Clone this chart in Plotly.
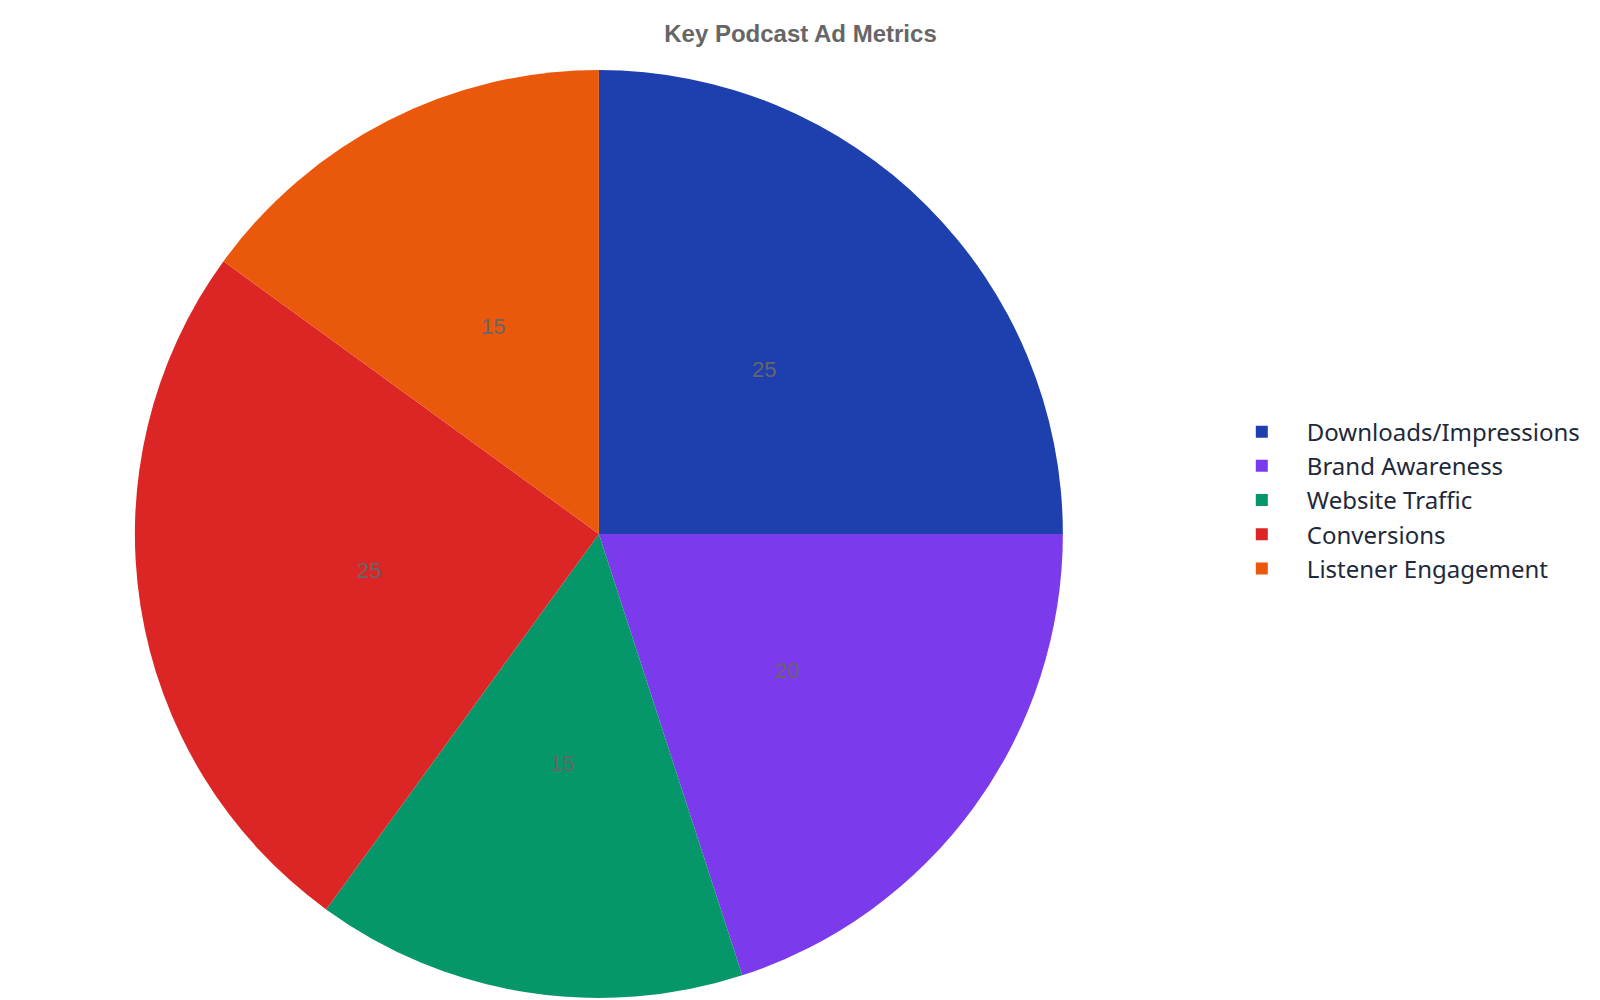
import math
import plotly.graph_objects as go

# Slice data, in drawing order (clockwise from 12 o'clock)
metrics = [
    "Downloads/Impressions",
    "Brand Awareness",
    "Website Traffic",
    "Conversions",
    "Listener Engagement",
]
shares = [25, 20, 15, 25, 15]
slice_colors = ["#1E40AF", "#7C3AED", "#059669", "#DC2626", "#EA580C"]

W, H = 1600, 1000
M_T, M_B = 62, 10
DOM_X = [0.0793, 0.6593]

fig = go.Figure(
    go.Pie(
        labels=metrics,
        values=shares,
        sort=False,
        direction="clockwise",
        rotation=0,
        marker=dict(colors=slice_colors, line=dict(width=0)),
        textinfo="none",
        domain=dict(x=DOM_X, y=[0, 1]),
        hoverinfo="label+value",
    )
)

# value labels at roughly half the radius, on each slice's mid angle
radius = (H - M_T - M_B) / 2 * 0.98
cx = sum(DOM_X) / 2
total = sum(shares)
acc = 0
for v in shares:
    mid = (acc + v / 2) / total * 2 * math.pi
    acc += v
    fig.add_annotation(
        x=cx, y=0.5, xref="paper", yref="paper",
        text=str(v), showarrow=False,
        xshift=0.512 * radius * math.sin(mid),
        yshift=0.512 * radius * math.cos(mid),
        font=dict(family="Liberation Sans, Arial", size=22, color="#666666"),
    )

fig.update_layout(
    width=W,
    height=H,
    paper_bgcolor="white",
    plot_bgcolor="white",
    margin=dict(l=0, r=0, t=M_T, b=M_B),
    title=dict(
        text="<b>Key Podcast Ad Metrics</b>",
        x=0.4953,
        xanchor="center",
        y=0.974,
        yanchor="middle",
        font=dict(family="Liberation Sans, Arial", size=24, color="#666666"),
    ),
    legend=dict(
        x=0.7555,
        xanchor="left",
        y=0.5366,
        yanchor="middle",
        itemwidth=80,
        font=dict(family="Noto Sans", size=24, color="#1e293b"),
        bgcolor="rgba(0,0,0,0)",
    ),
    showlegend=True,
)

fig.write_html("out.html")
